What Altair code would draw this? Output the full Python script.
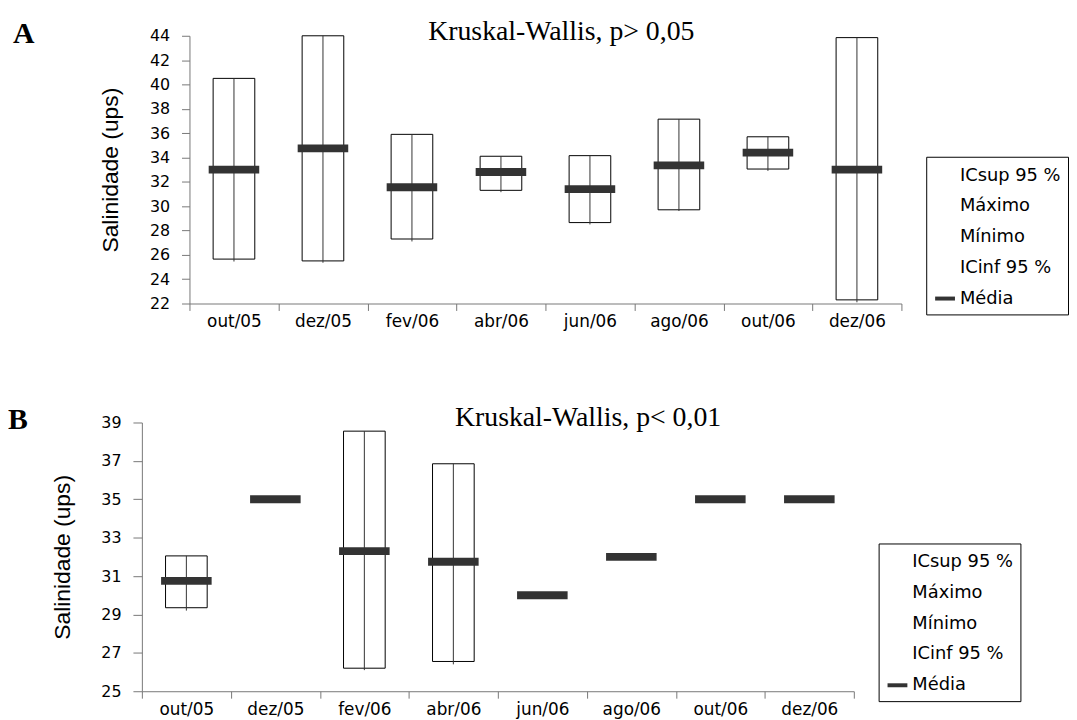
import json
import altair as alt
import pandas as pd

categorias = ["out/05", "dez/05", "fev/06", "abr/06", "jun/06", "ago/06", "out/06", "dez/06"]
series = ["ICsup 95 %", "Máximo", "Mínimo", "ICinf 95 %", "Média"]

# Panel A (Kruskal-Wallis, p> 0,05)
icsup_a = [40.5, 44.0, 35.9, 34.1, 34.15, 37.15, 35.7, 43.85]
maximo_a = [40.5, 44.0, 35.9, 34.1, 34.15, 37.15, 35.7, 43.85]
minimo_a = [25.45, 25.35, 27.1, 31.15, 28.5, 29.6, 32.9, 22.1]
icinf_a = [25.65, 25.5, 27.3, 31.3, 28.65, 29.7, 33.05, 22.3]
media_a = [33.0, 34.75, 31.55, 32.8, 31.4, 33.35, 34.4, 33.0]

# Panel B (Kruskal-Wallis, p< 0,01)
icsup_b = [32.05, None, 38.55, 36.85, None, None, None, None]
maximo_b = [32.05, None, 38.55, 36.85, None, None, None, None]
minimo_b = [29.2, None, 26.1, 26.4, None, None, None, None]
icinf_b = [29.35, None, 26.2, 26.55, None, None, None, None]
media_b = [30.75, 35.0, 32.3, 31.75, 30.0, 32.0, 35.0, 35.0]

AXIS_GRAY = "#777777"
TICK_FONT = "DejaVu Sans"
PLOT_W = 718


def panel(letter, titulo, sup, mx, mn, inf, med, ymin, ymax, shift, letter_x, title_x,
          ytick, legend_x, legend_y, height):
    df = pd.DataFrame({
        "idx": list(range(len(categorias))),
        "cat": categorias,
        "icsup": sup, "maximo": mx, "minimo": mn, "icinf": inf,
        "media": med, "serie": ["Média"] * len(categorias),
    })
    base = alt.Chart(df)
    xscale = alt.Scale(domain=[-0.5, len(categorias) - 0.5], nice=False, zero=False,
                       range=[shift, shift + PLOT_W])
    yscale = alt.Scale(domain=[ymin, ymax], nice=False, zero=False)
    label_expr = ("datum.value % 1 == 0 ? " + json.dumps(categorias, ensure_ascii=False)
                  + "[datum.value] : ''")
    xaxis = alt.Axis(
        values=[i / 2 for i in range(-1, 2 * len(categorias))],
        labelExpr=label_expr, title=None, grid=False, tickSize=7,
        tickOpacity={"condition": {"test": "datum.value % 1 != 0", "value": 1}, "value": 0},
        labelOverlap=False, labelFlush=False, labelAngle=0,
        labelFont=TICK_FONT, labelFontSize=17, labelColor="black", labelPadding=3,
        domainColor=AXIS_GRAY, tickColor=AXIS_GRAY,
    )
    yaxis = alt.Axis(
        values=list(range(ymin, ymax + 1, 2)), title="Salinidade (ups)",
        titleFont="Liberation Sans", titleFontSize=23, titleFontWeight="normal",
        titleColor="black", titlePadding=27, offset=-shift,
        grid=False, tickSize=ytick, labelPadding=12,
        labelFont=TICK_FONT, labelFontSize=16, labelColor="black",
        domainColor=AXIS_GRAY, tickColor=AXIS_GRAY,
    )
    has_box = "isValid(datum.icsup)"
    boxes = base.transform_filter(has_box).transform_calculate(
        x0="datum.idx - 0.234", x1="datum.idx + 0.234"
    ).mark_bar(fill="white", stroke="black", strokeWidth=1).encode(
        x=alt.X("x0:Q", scale=xscale, axis=xaxis), x2="x1:Q",
        y=alt.Y("icinf:Q", scale=yscale, axis=yaxis), y2="icsup:Q",
    )
    whisk = base.transform_filter(has_box).mark_rule(color="#333333", strokeWidth=1).encode(
        x=alt.X("idx:Q", scale=xscale, axis=xaxis),
        y=alt.Y("minimo:Q", scale=yscale, axis=yaxis), y2="maximo:Q",
    )
    means = base.transform_calculate(
        x0="datum.idx - 0.284", x1="datum.idx + 0.284"
    ).mark_rule(strokeWidth=8, strokeCap="butt").encode(
        x=alt.X("x0:Q", scale=xscale, axis=xaxis), x2="x1:Q",
        y=alt.Y("media:Q", scale=yscale, axis=yaxis),
        color=alt.Color("serie:N", scale=alt.Scale(
            domain=series, range=["transparent", "transparent", "transparent", "transparent", "#333333"]),
            legend=alt.Legend(
                orient="none", legendX=legend_x, legendY=legend_y, title=None,
                symbolType="stroke", symbolSize=400, symbolStrokeWidth=4,
                labelFont=TICK_FONT, labelFontSize=18, labelColor="black",
                labelOffset=3, rowPadding=10, padding=7,
                strokeColor="black", fillColor="white",
            )),
    )
    txt = pd.DataFrame({"t": [letter], "title": [titulo]})
    letter_mark = alt.Chart(txt).mark_text(
        font="Liberation Serif", fontSize=30, fontWeight="bold", align="left",
        baseline="alphabetic", color="black"
    ).encode(text="t:N", x=alt.value(letter_x), y=alt.value(7))
    title_mark = alt.Chart(txt).mark_text(
        font="Liberation Serif", fontSize=28, align="center", baseline="middle", color="black"
    ).encode(text="title:N", x=alt.value(title_x), y=alt.value(-4))
    return alt.layer(boxes, whisk, means, letter_mark, title_mark).properties(
        width=shift + PLOT_W, height=height)


pa = panel("A", "Kruskal-Wallis, p> 0,05", icsup_a, maximo_a, minimo_a, icinf_a, media_a,
           22, 44, 48, -130, 423, 8, 791, 122, 270)
pb = panel("B", "Kruskal-Wallis, p< 0,01", icsup_b, maximo_b, minimo_b, icinf_b, media_b,
           25, 39, 0, -135, 450, 9, 743, 122, 271)

chart = alt.vconcat(pa, pb, spacing=76).resolve_scale(
    color="independent"
).properties(
    padding={"left": 0, "top": 7, "right": 0, "bottom": 0}, background="white"
).configure_view(strokeWidth=0)

chart.save("out.html", embed_options={"renderer": "svg", "actions": False})
